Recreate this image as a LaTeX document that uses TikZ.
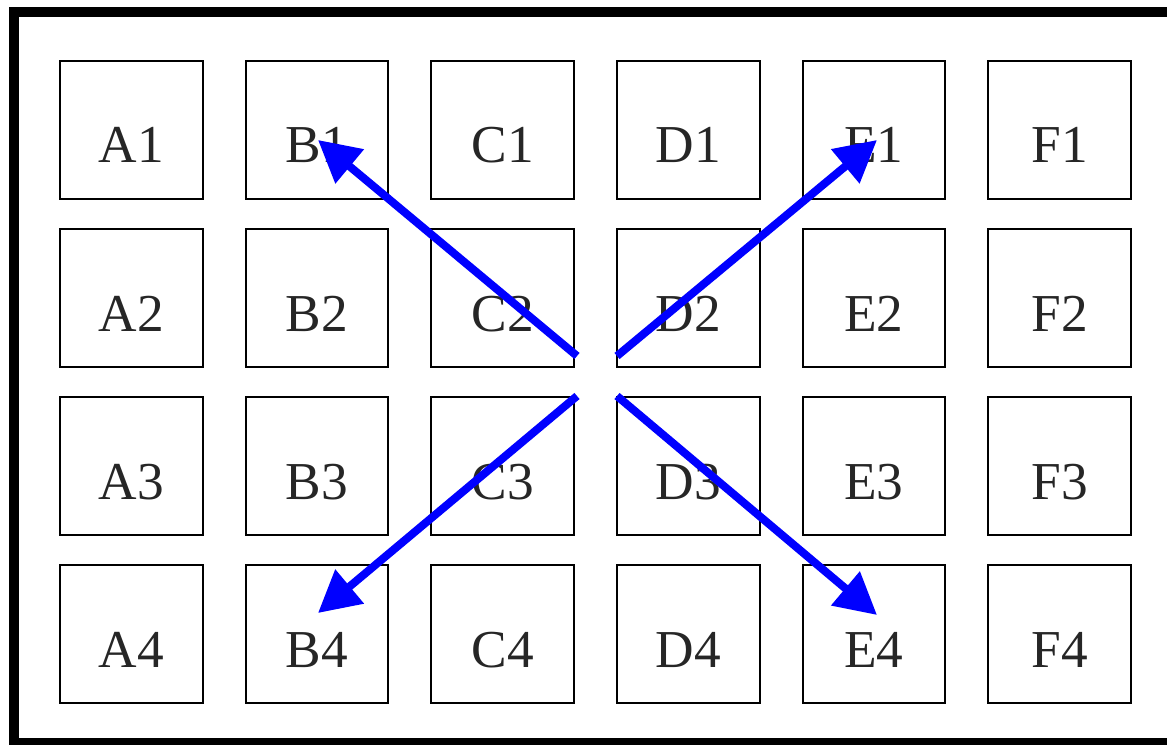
\documentclass[tikz,border=0pt]{standalone}
\usepackage{fontspec}
\setmainfont{Liberation Serif}
\usetikzlibrary{arrows.meta}
\begin{document}
\begin{tikzpicture}[x=0.75pt,y=-0.75pt,
  cell/.style={draw=black,line width=1.5pt,minimum width=107pt,minimum height=103.5pt,inner sep=0pt,text height=49.5pt,text depth=0pt,font=\fontsize{40}{40}\selectfont,text=black!85},
  arr/.style={draw={rgb,255:red,0;green,0;blue,255},line width=6pt,-{Triangle[length=31pt,width=32pt]}}]
\useasboundingbox (0,0) rectangle (1167,745);
\draw[line width=8pt] (14,12) rectangle (1178,743);
\foreach \c [count=\i from 0] in {A,B,C,D,E,F}{
  \foreach \r [count=\j from 0] in {1,2,3,4}{
    \node[cell] (\c\r) at ({131.5+185.6*\i},{130+168*\j}) {\c\r};
  }
}
\coordinate (s1) at (577,356);
\coordinate (s2) at (617,356);
\coordinate (s3) at (577,396);
\coordinate (s4) at (617,396);
\coordinate (t1) at (318,140);
\coordinate (t2) at (877,140);
\coordinate (t3) at (318,613);
\coordinate (t4) at (877,615);
\draw[arr] (s1) -- (t1);
\draw[arr] (s2) -- (t2);
\draw[arr] (s3) -- (t3);
\draw[arr] (s4) -- (t4);
\end{tikzpicture}
\end{document}
